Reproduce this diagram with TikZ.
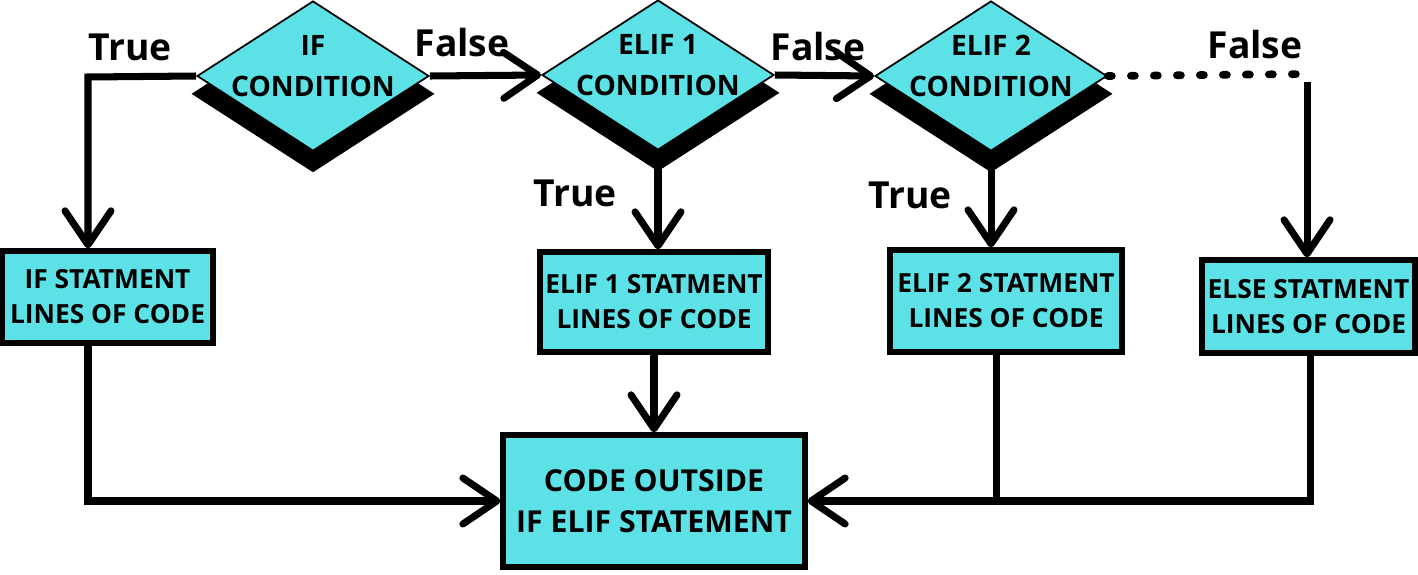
\documentclass[tikz,border=0pt]{standalone}
\usepackage{fontspec}
\setmainfont{Open Sans}
\usetikzlibrary{shapes.geometric,shadows,arrows.meta}
\definecolor{turq}{HTML}{5CE1E6}
\tikzset{
  decision/.style={diamond, draw=black, line width=0.5pt, fill=turq, inner sep=0pt,
    minimum width=2.32cm, minimum height=1.5cm,
    drop shadow={shadow xshift=0cm, shadow yshift=-0.17cm, shadow scale=1.05, opacity=1, fill=black}},
  condtext/.style={align=center, font=\bfseries\fontsize{8}{11.5}\selectfont, yshift=0.1cm},
  codebox/.style={rectangle, draw=black, line width=1.5pt, fill=turq, align=center, inner sep=1pt,
    font=\bfseries\fontsize{7.5}{10}\selectfont},
  flowline/.style={line width=2pt},
  flow/.style={flowline, -{Straight Barb[length=3.4mm, width=4.6mm, round]}},
  dotline/.style={line width=2.2pt, line cap=round, dash pattern=on 0.04cm off 0.19cm},
  answer/.style={font=\bfseries\fontsize{10.6}{13}\selectfont}
}
\begin{document}
\begin{tikzpicture}
        \useasboundingbox (0,0) rectangle (14.18,-5.74);
        % Conditions
        \node[decision, label={[condtext]center:IF\\CONDITION}] (ifc) at (3.13,-0.76) {};
        \node[decision, label={[condtext]center:ELIF 1\\CONDITION}] (elif1c) at (6.58,-0.75) {};
        \node[decision, label={[condtext]center:ELIF 2\\CONDITION}] (elif2c) at (9.91,-0.76) {};
        % Statement blocks
        \node[codebox, minimum width=2.11cm, minimum height=0.92cm] (ifbox) at (1.075,-2.97) {IF STATMENT\\LINES OF CODE};
        \node[codebox, minimum width=2.28cm, minimum height=1.0cm] (elif1box) at (6.54,-3.02) {ELIF 1 STATMENT\\LINES OF CODE};
        \node[codebox, minimum width=2.32cm, minimum height=1.02cm] (elif2box) at (10.06,-3.01) {ELIF 2 STATMENT\\LINES OF CODE};
        \node[codebox, minimum width=2.13cm, minimum height=0.93cm] (elsebox) at (13.085,-3.065) {ELSE STATMENT\\LINES OF CODE};
        \node[codebox, minimum width=3.02cm, minimum height=1.32cm, font=\bfseries\fontsize{8.6}{11.5}\selectfont] (outbox) at (6.54,-5.01) {CODE OUTSIDE\\IF ELIF STATEMENT};
        % Corners
        \coordinate (ifx) at (0.88,-0.77);
        \coordinate (elsex) at (13.07,-0.74);
        % Connectors
        \draw[flow] (ifc.west) -- (ifx) -- (ifx |- ifbox.north);
        \draw[flow] (ifc.east) -- (elif1c.west);
        \draw[flow] (elif1c.east) -- (elif2c.west);
        \draw[dotline] (elif2c.east) -- (elsex);
        \draw[flow] ([yshift=-0.08cm]elsex) -- (elsex |- elsebox.north);
        \draw[flow] (elif1c.south) -- (elif1c.south |- elif1box.north);
        \draw[flow] (elif2c.south) -- (elif2c.south |- elif2box.north);
        \draw[flow] (ifx |- ifbox.south) |- (outbox.west);
        \draw[flow] (elif1box.south) -- (outbox.north);
        \draw[flowline] ([xshift=-0.1cm]elif2box.south) -- ([xshift=-0.1cm]elif2box.south |- outbox.east);
        \draw[flow] ([xshift=0.02cm]elsebox.south) |- (outbox.east);
        % Labels
        \node[answer] (t1) at (1.30,-0.47) {True};
        \node[answer] (f1) at (4.62,-0.43) {False};
        \node[answer] (f2) at (8.18,-0.47) {False};
        \node[answer] (f3) at (12.55,-0.45) {False};
        \node[answer] (t2) at (5.75,-1.93) {True};
        \node[answer] (t3) at (9.10,-1.95) {True};
\end{tikzpicture}
\end{document}
